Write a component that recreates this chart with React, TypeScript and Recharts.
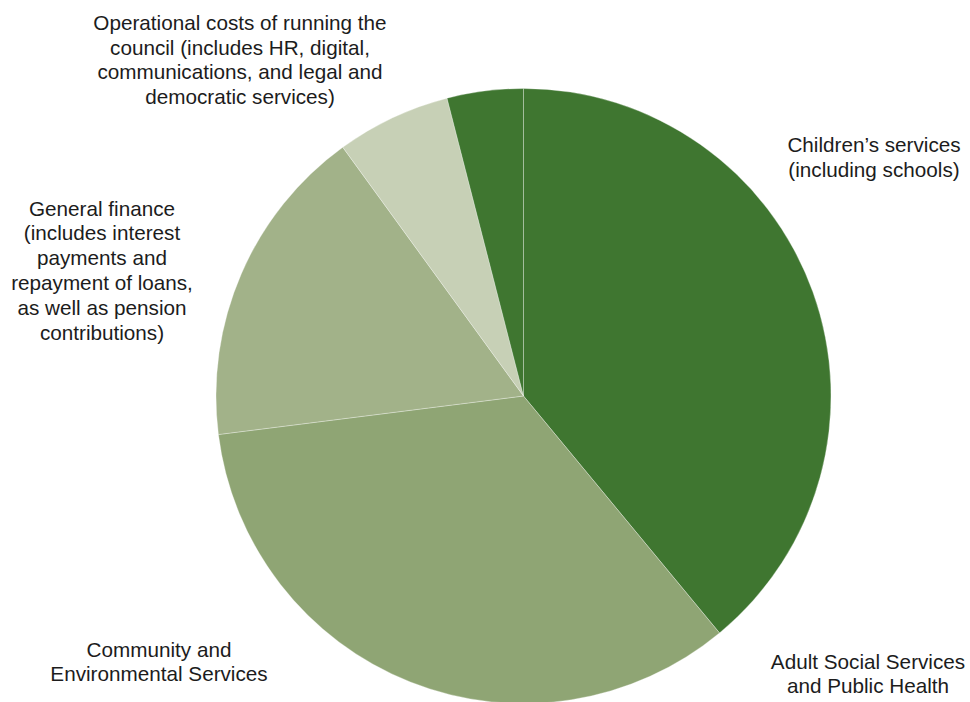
import React from "react";
import { PieChart, Pie, Cell } from "recharts";

const categories = [
  "Children's services",
  "Adult Social Services",
  "Community and Environmental Services",
  "General finance",
  "Operational costs",
];
const shares = [39, 34, 17, 6, 4];
const labelLines: string[][] = [
  ["Children\u2019s services", "(including schools)"],
  ["Adult Social Services", "and Public Health"],
  ["Community and", "Environmental Services"],
  [
    "General finance",
    "(includes interest",
    "payments and",
    "repayment of loans,",
    "as well as pension",
    "contributions)",
  ],
  [
    "Operational costs of running the",
    "council (includes HR, digital,",
    "communications, and legal and",
    "democratic services)",
  ],
];

const COLORS = ["#3f7630", "#8fa574", "#a2b289", "#c7d0b6", "#3f7630"];
// label block centre offsets from the pie centre (layout only)
const LABEL_OFFSETS: [number, number][] = [
  [350.5, -239],
  [344.5, 277.5],
  [-364.5, 265.5],
  [-421.5, -126],
  [-283.5, -336.5],
];
const FONT_SIZE = 20.7;
const LINE_H = 24.8;

const data = categories.map((name, i) => ({ name, value: shares[i] }));

const renderLabel = (props: any) => {
  const { cx, cy, index } = props;
  const lines = labelLines[index];
  const [dx, dy] = LABEL_OFFSETS[index];
  const x = cx + dx;
  const y0 = cy + dy - ((lines.length - 1) / 2) * LINE_H;
  return (
    <text
      key={`lbl-${index}`}
      x={x}
      y={y0}
      textAnchor="middle"
      fill="#1c1c1c"
      fontFamily="'Liberation Sans', Arial, sans-serif"
      fontSize={FONT_SIZE}
    >
      {lines.map((l, j) => (
        <tspan key={j} x={x} y={y0 + j * LINE_H} dominantBaseline="central">
          {l}
        </tspan>
      ))}
    </text>
  );
};

export default function App() {
  return (
    <div style={{ position: "absolute", left: 0, top: 0, width: 970, height: 702, background: "#fff" }}>
      <PieChart width={970} height={702} margin={{ top: 0, right: 0, bottom: 0, left: 0 }}>
        <Pie
          data={data}
          dataKey="value"
          nameKey="name"
          cx={523.5}
          cy={396}
          outerRadius={307.5}
          startAngle={90}
          endAngle={-270}
          stroke="#ffffff"
          strokeWidth={0.6}
          strokeOpacity={0.5}
          label={renderLabel}
          labelLine={false}
          isAnimationActive={false}
        >
          {data.map((d, i) => (
            <Cell key={d.name} fill={COLORS[i]} />
          ))}
        </Pie>
      </PieChart>
    </div>
  );
}
